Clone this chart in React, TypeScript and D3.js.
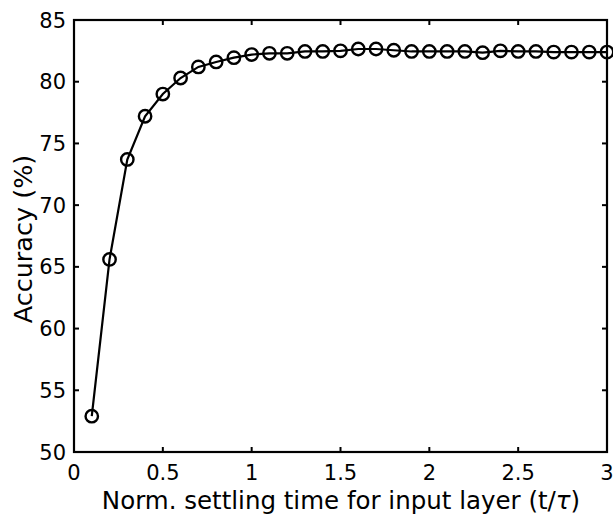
import React, { useEffect, useRef } from 'react';
import * as d3 from 'd3';

const settling = [0.1, 0.2, 0.3, 0.4, 0.5, 0.6, 0.7, 0.8, 0.9, 1.0, 1.1, 1.2, 1.3, 1.4, 1.5,
  1.6, 1.7, 1.8, 1.9, 2.0, 2.1, 2.2, 2.3, 2.4, 2.5, 2.6, 2.7, 2.8, 2.9, 3.0];
const accuracy = [52.9, 65.6, 73.7, 77.2, 79.0, 80.3, 81.2, 81.6, 81.95, 82.2, 82.3, 82.3, 82.45, 82.45, 82.5,
  82.65, 82.65, 82.55, 82.45, 82.45, 82.45, 82.45, 82.35, 82.5, 82.45, 82.45, 82.4, 82.4, 82.4, 82.4];
const xTicks = [0, 0.5, 1, 1.5, 2, 2.5, 3];
const yTicks = [50, 55, 60, 65, 70, 75, 80, 85];

const W = 613;
const H = 518;
const margin = { left: 74, right: 6, top: 20, bottom: 66 };

export default function App() {
  const svgRef = useRef<SVGSVGElement>(null);

  useEffect(() => {
    const svg = d3.select(svgRef.current);
    svg.selectAll('*').remove();

    const x = d3.scaleLinear().domain([0, 3]).range([margin.left, W - margin.right]);
    const y = d3.scaleLinear().domain([50, 85]).range([H - margin.bottom, margin.top]);
    const font = 'DejaVu Sans';

    // ticks (inward, on all four sides)
    const g = svg.append('g').attr('stroke', 'black').attr('stroke-width', 2);
    xTicks.forEach(t => {
      g.append('line').attr('x1', x(t)).attr('x2', x(t)).attr('y1', y(50)).attr('y2', y(50) - 5);
      g.append('line').attr('x1', x(t)).attr('x2', x(t)).attr('y1', y(85)).attr('y2', y(85) + 5);
    });
    yTicks.forEach(t => {
      g.append('line').attr('x1', x(0)).attr('x2', x(0) + 5).attr('y1', y(t)).attr('y2', y(t));
      g.append('line').attr('x1', x(3)).attr('x2', x(3) - 5).attr('y1', y(t)).attr('y2', y(t));
    });

    // data line
    const data = settling.map((s, i) => [s, accuracy[i]] as [number, number]);
    const line = d3.line<[number, number]>().x(d => x(d[0])).y(d => y(d[1]));
    svg.append('path')
      .datum(data)
      .attr('d', line)
      .attr('fill', 'none')
      .attr('stroke', 'black')
      .attr('stroke-width', 2.2);

    // markers
    svg.selectAll('circle')
      .data(data)
      .enter()
      .append('circle')
      .attr('cx', d => x(d[0]))
      .attr('cy', d => y(d[1]))
      .attr('r', 6.2)
      .attr('fill', 'none')
      .attr('stroke', 'black')
      .attr('stroke-width', 2.4);

    // frame
    svg.append('rect')
      .attr('x', x(0)).attr('y', y(85))
      .attr('width', x(3) - x(0)).attr('height', y(50) - y(85))
      .attr('fill', 'none').attr('stroke', 'black').attr('stroke-width', 2.2);

    // tick labels
    svg.selectAll('text.xt')
      .data(xTicks)
      .enter()
      .append('text')
      .attr('x', d => x(d))
      .attr('y', y(50) + 28)
      .attr('text-anchor', 'middle')
      .attr('font-family', font)
      .attr('font-size', 21)
      .text(d => String(d));

    svg.selectAll('text.yt')
      .data(yTicks)
      .enter()
      .append('text')
      .attr('x', x(0) - 8)
      .attr('y', d => y(d) + 7.5)
      .attr('text-anchor', 'end')
      .attr('font-family', font)
      .attr('font-size', 21)
      .text(d => String(d));

    // axis labels
    const xl = svg.append('text')
      .attr('x', 341)
      .attr('y', 509)
      .attr('text-anchor', 'middle')
      .attr('font-family', font)
      .attr('font-size', 24.5);
    xl.append('tspan').text('Norm. settling time for input layer (t/');
    xl.append('tspan').attr('font-style', 'italic').text('τ');
    xl.append('tspan').text(')');

    svg.append('text')
      .attr('transform', `translate(32,239) rotate(-90)`)
      .attr('text-anchor', 'middle')
      .attr('font-family', font)
      .attr('font-size', 25.5)
      .text('Accuracy (%)');
  }, []);

  return (
    <svg ref={svgRef} width={W} height={H} style={{ position: 'absolute', left: 0, top: 0 }}></svg>
  );
}
